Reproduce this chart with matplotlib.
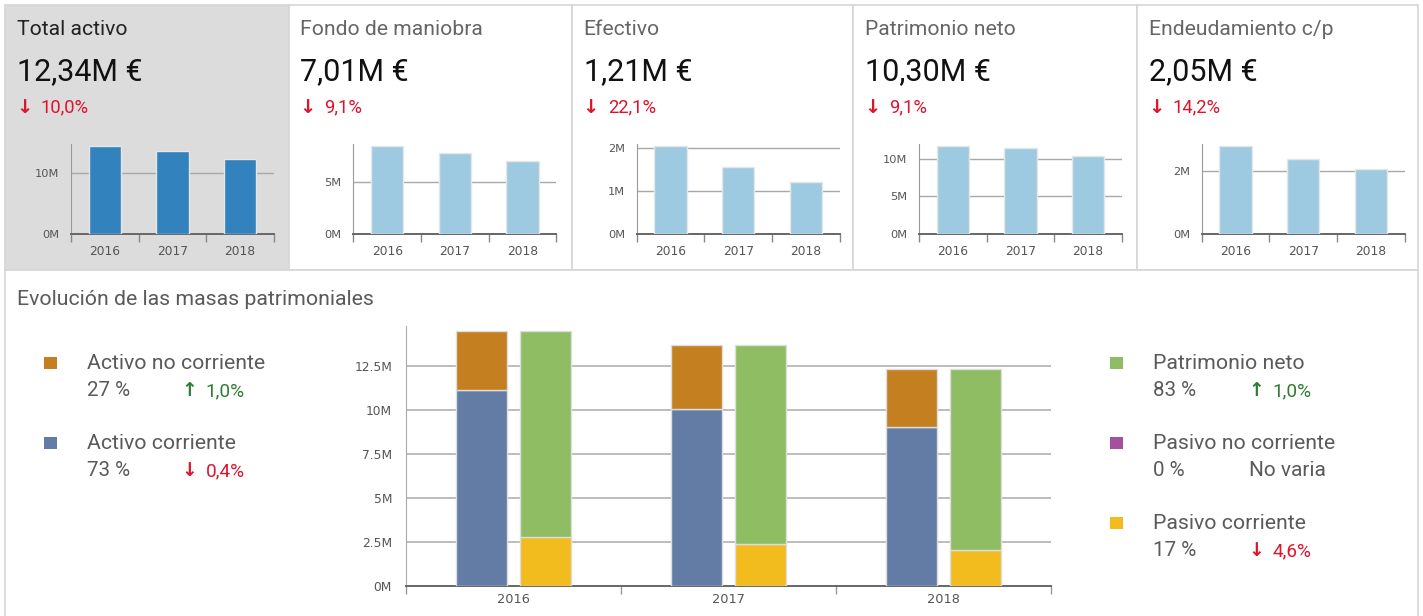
import matplotlib
matplotlib.use("Agg")
import matplotlib.pyplot as plt
from matplotlib.patches import Rectangle
import numpy as np

# ---------------- data ----------------
years = ["2016", "2017", "2018"]

kpi_titles = ["Total activo", "Fondo de maniobra", "Efectivo", "Patrimonio neto", "Endeudamiento c/p"]
kpi_values = ["12,34M €", "7,01M €", "1,21M €", "10,30M €", "2,05M €"]
kpi_changes = ["10,0%", "9,1%", "22,1%", "9,1%", "14,2%"]

total_activo = [14.50, 13.70, 12.34]
fondo_maniobra = [8.47, 7.80, 7.01]
efectivo = [2.05, 1.56, 1.21]
patrimonio_neto = [11.70, 11.33, 10.30]
endeudamiento_cp = [2.80, 2.37, 2.05]

mini_series = [total_activo, fondo_maniobra, efectivo, patrimonio_neto, endeudamiento_cp]
mini_ticks = [[0, 10], [0, 5], [0, 1, 2], [0, 5, 10], [0, 2]]

activo_corriente = [11.14, 10.06, 9.02]
activo_no_corriente = [3.36, 3.64, 3.32]
pasivo_corriente = [2.80, 2.37, 2.05]
pasivo_no_corriente = [0.0, 0.0, 0.0]
patrimonio = [11.70, 11.33, 10.30]
big_ticks = [0, 2.5, 5, 7.5, 10, 12.5]
big_tick_labels = ["0M", "2.5M", "5M", "7.5M", "10M", "12.5M"]

left_legend = [("Activo no corriente", "27 %", "up", "1,0%"),
               ("Activo corriente", "73 %", "down", "0,4%")]
right_legend = [("Patrimonio neto", "83 %", "up", "1,0%"),
                ("Pasivo no corriente", "0 %", "none", "No varia"),
                ("Pasivo corriente", "17 %", "down", "4,6%")]

# ---------------- style ----------------
W, H = 1423, 616
FONT = ["Roboto", "DejaVu Sans"]
RED = "#e0132c"
GREEN = "#2e7d32"
GREY_TXT = "#5a5a5a"
C_ANC = "#c47f20"
C_AC = "#627ca6"
C_PN = "#8fbd63"
C_PNC = "#a64f9f"
C_PC = "#f2bb1e"

fig = plt.figure(figsize=(W / 100, H / 100), dpi=100)
fig.patch.set_facecolor("white")

bg = fig.add_axes([0, 0, 1, 1])
bg.set_xlim(0, W)
bg.set_ylim(H, 0)
bg.axis("off")


def ax_px(x0, y0, w, h):
    return fig.add_axes([x0 / W, 1 - (y0 + h) / H, w / W, h / H])


# panels
panel_left = [5, 288.5, 571.7, 853, 1137]
panel_right = [288.5, 571.7, 853, 1137, 1418]
for i, (l, r) in enumerate(zip(panel_left, panel_right)):
    fc = "#dcdcdc" if i == 0 else "white"
    bg.add_patch(Rectangle((l, 5), r - l, 265, facecolor=fc, edgecolor="#d6d6d6", lw=1.2))
bg.add_patch(Rectangle((5, 270), 1413, 360, facecolor="white", edgecolor="#d6d6d6", lw=1.2))

# KPI texts
for i, l in enumerate(panel_left):
    x = l + 12
    bg.text(x, 35, kpi_titles[i], family=FONT, fontsize=15.2,
            color="#222222" if i == 0 else "#666666", va="baseline", ha="left")
    bg.text(x, 80, kpi_values[i], family=FONT, fontsize=22, color="#111111",
            va="baseline", ha="left")
    bg.text(x - 1, 113, "↓", family=["DejaVu Sans"], fontsize=14, color=RED,
            va="baseline", ha="left", fontweight="bold")
    bg.text(x + 24, 112.5, kpi_changes[i], family=FONT, fontsize=13.2, color=RED,
            va="baseline", ha="left")

# mini charts
mini_left = [71, 353.3, 636.7, 919, 1201.7]
for i, x0 in enumerate(mini_left):
    vals = mini_series[i]
    ax = ax_px(x0, 144, 203, 90.3)
    ax.set_facecolor("none")
    col = "#3182bd" if i == 0 else "#9ecae1"
    xs = np.arange(len(years))
    ax.bar(xs, vals, width=0.48, color=col, edgecolor="#e6e6e6", lw=1, zorder=3)
    ax.set_xlim(-0.5, len(years) - 0.5)
    ax.set_ylim(0, max(vals) * 1.019)
    ax.set_yticks(mini_ticks[i])
    ax.set_yticklabels([f"{t}M" for t in mini_ticks[i]])
    for t in mini_ticks[i]:
        if t > 0:
            ax.axhline(t, color="#a8a8a8", lw=1, zorder=1)
    ax.set_xticks(np.arange(len(years) + 1) - 0.5)
    ax.set_xticklabels([])
    ax.set_xticks(xs, minor=True)
    ax.set_xticklabels(years, minor=True)
    ax.tick_params(axis="x", which="major", length=6, color="#888888", width=1)
    ax.tick_params(axis="x", which="minor", length=0, pad=7.5, labelsize=8.8, labelcolor="#555555")
    ax.tick_params(axis="y", length=0, pad=8.4, labelsize=8.2, labelcolor="#555555")
    for s in ["top", "right"]:
        ax.spines[s].set_visible(False)
    ax.spines["left"].set_color("#999999")
    ax.spines["bottom"].set_color("#666666")
    ax.spines["bottom"].set_linewidth(1.4)

# bottom title
bg.text(17, 305, "Evolución de las masas patrimoniales", family=FONT, fontsize=15.3,
        color=GREY_TXT, va="baseline", ha="left")

# big chart
ax = ax_px(406, 326, 645, 260)
ax.set_facecolor("none")
xs = np.arange(len(years))
bw = 0.237
off = 0.149
ax.bar(xs - off, activo_corriente, width=bw, color=C_AC, edgecolor="#dddddd", lw=1, zorder=3)
ax.bar(xs - off, activo_no_corriente, width=bw, bottom=activo_corriente, color=C_ANC,
       edgecolor="#dddddd", lw=1, zorder=3)
ax.bar(xs + off, pasivo_corriente, width=bw, color=C_PC, edgecolor="#dddddd", lw=1, zorder=3)
bottom2 = np.array(pasivo_corriente) + np.array(pasivo_no_corriente)
ax.bar(xs + off, patrimonio, width=bw, bottom=bottom2, color=C_PN, edgecolor="#dddddd",
       lw=1, zorder=3)
tot = max(np.array(activo_corriente) + np.array(activo_no_corriente))
ax.set_xlim(-0.5, len(years) - 0.5)
ax.set_ylim(0, tot * 1.019)
ax.set_yticks(big_ticks)
ax.set_yticklabels(big_tick_labels)
for t in big_ticks:
    if t > 0:
        ax.axhline(t, color="#bdbdbd", lw=1.4, zorder=1)
ax.set_xticks(np.arange(len(years) + 1) - 0.5)
ax.set_xticklabels([])
ax.set_xticks(xs, minor=True)
ax.set_xticklabels(years, minor=True)
ax.tick_params(axis="x", which="major", length=6, color="#999999", width=1)
ax.tick_params(axis="x", which="minor", length=0, pad=5, labelsize=9.3, labelcolor="#555555")
ax.tick_params(axis="y", length=0, pad=10, labelsize=8.8, labelcolor="#555555")
for s in ["top", "right"]:
    ax.spines[s].set_visible(False)
ax.spines["left"].set_color("#aaaaaa")
ax.spines["bottom"].set_color("#666666")
ax.spines["bottom"].set_linewidth(1.4)

# legends
def legend_block(x_sq, x_txt, y_name, color, name, pct, direction, change):
    bg.add_patch(Rectangle((x_sq, y_name - 12.5), 13, 12, facecolor=color, edgecolor="none"))
    bg.text(x_txt, y_name, name, family=FONT, fontsize=15.3, color=GREY_TXT,
            va="baseline", ha="left")
    bg.text(x_txt, y_name + 26.5, pct, family=FONT, fontsize=14.8, color=GREY_TXT,
            va="baseline", ha="left")
    xc = x_txt + 96
    if direction == "none":
        bg.text(xc, y_name + 26.5, change, family=FONT, fontsize=15, color=GREY_TXT,
                va="baseline", ha="left")
    else:
        c = GREEN if direction == "up" else RED
        arrow = "↑" if direction == "up" else "↓"
        bg.text(xc - 1, y_name + 27.5, arrow, family=["DejaVu Sans"], fontsize=13.5, color=c,
                va="baseline", ha="left", fontweight="bold")
        bg.text(xc + 23, y_name + 27, change, family=FONT, fontsize=13.7, color=c,
                va="baseline", ha="left")


left_colors = [C_ANC, C_AC]
for k, (name, pct, d, ch) in enumerate(left_legend):
    legend_block(43.5, 86.7, 369 + 80 * k, left_colors[k], name, pct, d, ch)

right_colors = [C_PN, C_PNC, C_PC]
for k, (name, pct, d, ch) in enumerate(right_legend):
    legend_block(1110, 1153.3, 369 + 80 * k, right_colors[k], name, pct, d, ch)

fig.savefig("out.png", dpi=100, facecolor="white")
